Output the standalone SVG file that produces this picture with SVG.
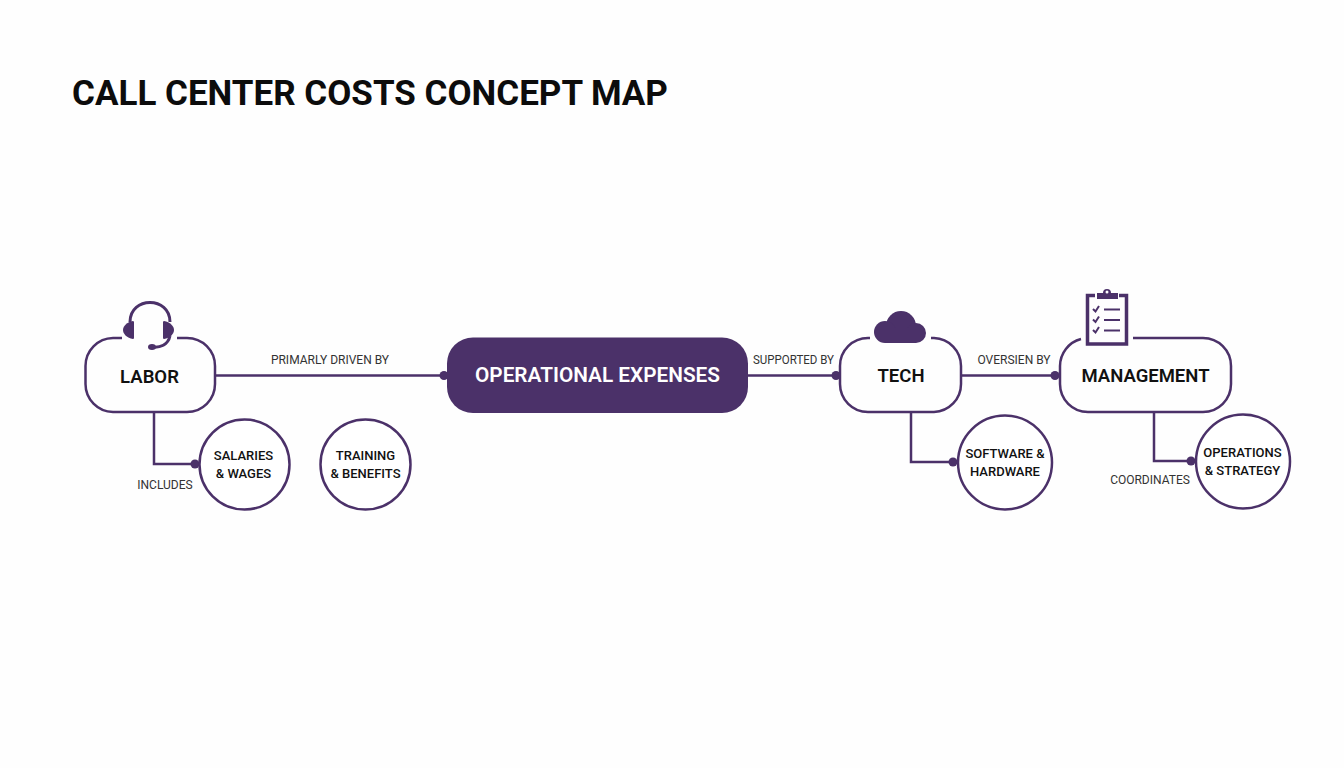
<svg xmlns="http://www.w3.org/2000/svg" width="1344" height="768" viewBox="0 0 1344 768">
<style>
text{font-family:Roboto,"Liberation Sans",sans-serif;text-anchor:middle}
.box{fill:none;stroke:#4b3169;stroke-width:2.5}
.c{fill:#fff;stroke:#4b3169;stroke-width:2.5}
.l{fill:none;stroke:#4b3169;stroke-width:2.5}
.d{fill:#4b3169}
.n{font-size:18.500px;font-weight:600;fill:#111}
.s{font-size:13px;font-weight:500;fill:#111}
.e{font-size:12px;fill:#333}
.ic{fill:none;stroke:#4b3169;stroke-width:3}
</style>
<rect width="1344" height="768" fill="#fefefe"/>
<text x="370" y="105" style="font-size:35px;font-weight:700;fill:#0c0c0c">CALL CENTER COSTS CONCEPT MAP</text>
<g id="connectors">
<path class="l" d="M215 375.500H444"/><circle class="d" cx="444" cy="375.500" r="4.500"/>
<path class="l" d="M748 375.500H836"/><circle class="d" cx="836" cy="375.500" r="4.500"/>
<path class="l" d="M961 375.500H1055"/><circle class="d" cx="1055" cy="375.500" r="4.500"/>
<path class="l" d="M154 412V464H195"/><circle class="d" cx="195" cy="464" r="4.500"/>
<path class="l" d="M911 412V462H953"/><circle class="d" cx="953" cy="462" r="4.500"/>
<path class="l" d="M1154 412V461H1191"/><circle class="d" cx="1191" cy="461" r="4.500"/>
<text class="e" x="330" y="364">PRIMARLY DRIVEN BY</text>
<text class="e" x="793.500" y="364" textLength="81" lengthAdjust="spacingAndGlyphs">SUPPORTED BY</text>
<text class="e" x="1014" y="364">OVERSIEN BY</text>
<text class="e" x="165" y="489">INCLUDES</text>
<text class="e" x="1150" y="484">COORDINATES</text>
</g>
<g id="labor">
<path class="box" d="M122 338H113A28 28 0 0 0 85.500 366V384A28 28 0 0 0 113 412H187A28 28 0 0 0 215 384V366A28 28 0 0 0 187 338H177"/>
<path class="ic" d="M130 322C130 296 170 296 170 322M170 336C168 345 160 348 152 347"/>
<path class="d" d="M133 321C127 322 123 326 123 330C123 334 127 338 133 339C134 339 134 338 134 337V323C134 322 134 321 133 321Z"/>
<path class="d" d="M164 321C170 322 174 326 174 330C174 334 170 338 164 339C163 339 163 338 163 337V323C163 322 163 321 164 321Z"/>
<ellipse class="d" cx="152" cy="347" rx="4" ry="3"/>
<text class="n" x="149.500" y="383">LABOR</text>
</g>
<g id="salaries"><circle class="c" cx="244.500" cy="464.500" r="45"/>
<text class="s" x="243.500" y="460">SALARIES</text><text class="s" x="243.500" y="478">&amp; WAGES</text></g>
<g id="training"><circle class="c" cx="365.500" cy="464.500" r="45"/>
<text class="s" x="365.500" y="460">TRAINING</text><text class="s" x="365.500" y="478">&amp; BENEFITS</text></g>
<g id="operational-expenses"><rect x="447" y="337.500" width="301" height="75.500" rx="26" class="d"/>
<text x="597.500" y="382" style="font-size:20px;font-weight:600;fill:#fff" textLength="245" lengthAdjust="spacingAndGlyphs">OPERATIONAL EXPENSES</text></g>
<g id="tech">
<path class="box" d="M870 338H868A28 28 0 0 0 840 366V384A28 28 0 0 0 868 412H934A28 28 0 0 0 961 384V366A28 28 0 0 0 934 338H931"/>
<g class="d"><circle cx="901" cy="326" r="15"/><circle cx="885" cy="332" r="11"/><circle cx="916" cy="333" r="10"/><rect x="885" y="328" width="31" height="15"/></g>
<text class="n" x="901" y="382">TECH</text>
</g>
<g id="software"><circle class="c" cx="1005" cy="462.500" r="47"/>
<text class="s" x="1005" y="458">SOFTWARE &amp;</text><text class="s" x="1005" y="476">HARDWARE</text></g>
<g id="management">
<path class="box" d="M1081 339A28 28 0 0 0 1060 366V384A28 28 0 0 0 1088 412H1203A28 28 0 0 0 1231 384V366A28 28 0 0 0 1203 338H1133"/>
<path class="ic" style="stroke-width:3.500" d="M1095 295.500H1087.500V344H1126.500V295.500H1119"/>
<path class="d" d="M1097 299H1118V293H1111A4 4 0 0 0 1103 293H1097Z"/>
<circle cx="1107" cy="292" r="1.500" fill="#fff"/>
<path fill="none" stroke="#4b3169" stroke-width="2" d="M1093 309L1095.500 311.500L1099 306M1093 319.500L1095.500 322L1099 316.500M1093 330L1095.500 332.500L1099 327M1104 309.500H1120M1104 320H1120M1104 330.500H1120"/>
<text class="n" x="1145.500" y="382">MANAGEMENT</text>
</g>
<g id="operations"><circle class="c" cx="1243" cy="461.500" r="47"/>
<text class="s" x="1242.500" y="457">OPERATIONS</text><text class="s" x="1242.500" y="475">&amp; STRATEGY</text></g>
</svg>
